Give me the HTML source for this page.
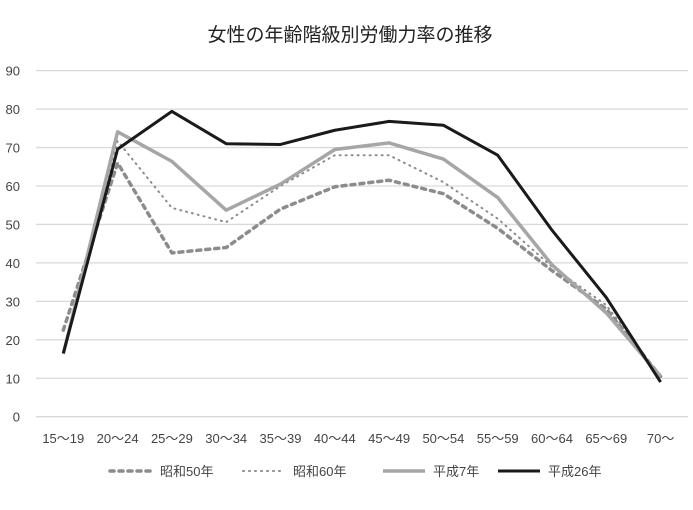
<!DOCTYPE html>
<html><head><meta charset="utf-8"><style>
body{margin:0;background:#fff;width:693px;height:505px;overflow:hidden;font-family:"Liberation Sans","Noto Sans CJK JP",sans-serif;}
</style></head><body>
<svg width="693" height="505" xmlns="http://www.w3.org/2000/svg">
<text x="350" y="41" text-anchor="middle" font-size="19" fill="#222" font-family="Liberation Sans, Noto Sans CJK JP, sans-serif">女性の年齢階級別労働力率の推移</text>
<g id="grid"></g><g id="xt"></g><g id="series"></g><g id="legend"></g>
</svg>
<script>
const categories=["15～19","20～24","25～29","30～34","35～39","40～44","45～49","50～54","55～59","60～64","65～69","70～"];
const yTicks=[0,10,20,30,40,50,60,70,80,90];
const s50=[22.5,66,42.6,44,54,59.8,61.5,58,49,38,28,10.5];
const s60=[17,71.7,54.3,50.6,60,68,68,61,51.5,39,29,10.5];
const h7=[16.3,74.1,66.4,53.7,60.5,69.5,71.2,67,57,39.5,27,10.5];
const h26=[16.5,69.6,79.4,71,70.8,74.5,76.8,75.8,68,48.5,31,9];
const seriesNames=["昭和50年","昭和60年","平成7年","平成26年"];
const NS="http://www.w3.org/2000/svg";
const y=v=>416.7-v*3.845;
const x=i=>63.3+i*54.3;
function mk(t,a,p){const e=document.createElementNS(NS,t);for(const k in a)e.setAttribute(k,a[k]);p.appendChild(e);return e;}
const grid=document.getElementById('grid');
yTicks.forEach(v=>{
 const l=mk('line',{x1:36,x2:688,y1:y(v),y2:y(v),stroke:'#d9d9d9','stroke-width':1.3},grid);
 
 
 const t=mk('text',{x:20,y:y(v)+5,'text-anchor':'end','font-size':13,fill:'#444'},grid);
 t.textContent=v;
 
 
});
const xt=document.getElementById('xt');
categories.forEach((c,i)=>{
 const t=mk('text',{x:x(i),y:443,'text-anchor':'middle','font-size':13,fill:'#444'},xt);
 t.textContent=c;
 
 
});
const styles=[
 {d:s50,stroke:'#8c8c8c',w:3.5,dash:'4 5',cap:'round'},
 {d:s60,stroke:'#8c8c8c',w:2,dash:'1 5',cap:'round'},
 {d:h7,stroke:'#a6a6a6',w:3.5,dash:'',cap:'butt'},
 {d:h26,stroke:'#1a1a1a',w:3,dash:'',cap:'butt'}];
const sg=document.getElementById('series');
const lg=document.getElementById('legend');
const lx=[110,243,383,498];
styles.forEach((s,k)=>{
 const p=mk('polyline',{points:s.d.map((v,i)=>x(i)+','+y(v)).join(' '),fill:'none',stroke:s.stroke,'stroke-width':s.w,'stroke-dasharray':s.dash,'stroke-linecap':s.cap,'stroke-linejoin':'round'},sg);
 
 
 const g=mk('g',{},lg);
 
 
 mk('line',{x1:lx[k],x2:lx[k]+42,y1:471,y2:471,stroke:s.stroke,'stroke-width':s.w,'stroke-dasharray':s.dash,'stroke-linecap':s.cap},g);
 const t=mk('text',{x:lx[k]+50,y:476,'font-size':13,fill:'#444'},g);
 t.textContent=seriesNames[k];
});
</script>
</body></html>
